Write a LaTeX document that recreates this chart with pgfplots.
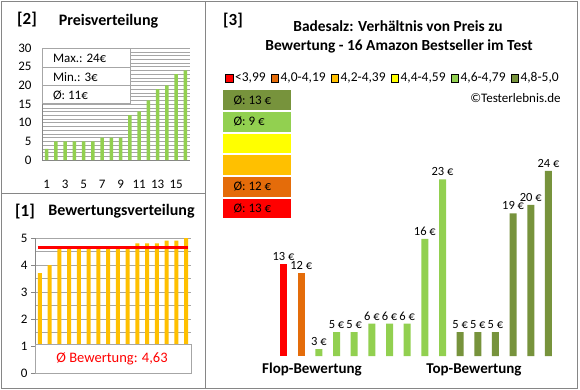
\documentclass[border=0pt]{standalone}
\usepackage{pgfplots}
\pgfplotsset{compat=1.18}
\usepackage{fontspec}
\setmainfont{Carlito}
\definecolor{cRed}{HTML}{FF0000}
\definecolor{cDOr}{HTML}{E46C0A}
\definecolor{cOr}{HTML}{FFC000}
\definecolor{cYel}{HTML}{FFFF00}
\definecolor{cLG}{HTML}{92D050}
\definecolor{cOl}{HTML}{77933C}
\definecolor{framec}{HTML}{868686}
\definecolor{gridc}{HTML}{A6A6A6}
\newcommand{\fs}[1]{\fontsize{#1}{#1}\selectfont}

\begin{document}
\begin{tikzpicture}
\path[use as bounding box] (0pt,0pt) rectangle (580pt,-390pt);
\fill[white] (0pt,0pt) rectangle (580pt,-390pt);
\draw[framec, line width=1pt] (1pt,-1.5pt) rectangle (577pt,-388pt);
\draw[framec, line width=1pt] (205pt,-1.5pt) -- (205pt,-388pt);
\draw[framec, line width=1pt] (1pt,-193pt) -- (205pt,-193pt);

% ---------- Panel [2] Preisverteilung ----------
\begin{axis}[at={(42pt,-160pt)}, anchor=south west, scale only axis,
  width=148pt, height=112pt,
  xmin=0.5, xmax=16.5, ymin=0, ymax=30,
  axis x line*=bottom, axis y line*=left, axis line style={framec,-},
  ytick={0,5,...,30}, minor ytick={1,...,29}, ymajorgrids, yminorgrids,
  major grid style={gridc}, minor grid style={gridc},
  xtick={1,3,...,15}, major tick length=0pt, minor tick length=0pt,
  tick label style={font=\fs{13}}, /pgf/number format/assume math mode=true,
  x tick label style={yshift=-17pt}, y tick label style={xshift=-7pt},
  ybar, bar width=3.3pt, bar shift=0pt]
\addplot[fill=cLG, draw=none] coordinates {(1,3)(2,5)(3,5)(4,5)(5,5)(6,5)(7,6)(8,6)(9,6)(10,12)(11,13)(12,16)(13,19)(14,20)(15,23)(16,24)};
\end{axis}
\draw[gridc, fill=white] (42pt,-48pt) rectangle (130pt,-103pt);
\draw[gridc] (42pt,-67pt) -- (130pt,-67pt);
\draw[gridc] (42pt,-85pt) -- (130pt,-85pt);
\node[anchor=west, font=\fs{13}] at (49.5pt,-58pt) {Max.: 24€};
\node[anchor=west, font=\fs{13}] at (49.5pt,-77pt) {Min.: 3€};
\node[anchor=west, font=\fs{13}] at (49.5pt,-95pt) {Ø: 11€};
\node[font=\bfseries\fs{17}] at (27pt,-20pt) {[2]};
\node[font=\bfseries\fs{16}] at (108.5pt,-21pt) {Preisverteilung};

% ---------- Panel [1] Bewertungsverteilung ----------
\begin{axis}[at={(35pt,-373pt)}, anchor=south west, scale only axis,
  width=156pt, height=135pt,
  xmin=0.5, xmax=16.5, ymin=0, ymax=5,
  axis x line*=bottom, axis y line*=left, axis line style={framec,-},
  ytick={0,...,5}, minor ytick={0.5,1.5,...,4.5}, ymajorgrids, yminorgrids,
  major grid style={gridc}, minor grid style={gridc},
  xtick=\empty, tick align=outside, major tick length=4pt, minor tick length=0pt,
  tick style={framec},
  tick label style={font=\fs{13}}, /pgf/number format/assume math mode=true,
  ybar, bar width=4pt, bar shift=0pt]
\addplot[fill=cOr, draw=none] coordinates {(1,3.7)(2,4.0)(3,4.6)(4,4.6)(5,4.6)(6,4.6)(7,4.7)(8,4.7)(9,4.7)(10,4.7)(11,4.8)(12,4.8)(13,4.8)(14,4.9)(15,4.9)(16,5.0)};
\addplot[sharp plot, cRed, line width=3pt] coordinates {(0.8,4.63)(16.2,4.63)};
\end{axis}
\draw[gridc, fill=white] (35pt,-344pt) rectangle (191pt,-373pt);
\node[text=cRed, font=\fs{14.5}] at (112pt,-359pt) {Ø Bewertung: 4,63};
\node[font=\bfseries\fs{17}] at (25pt,-212pt) {[1]};
\node[font=\bfseries\fs{16}] at (121.5pt,-211pt) {Bewertungsverteilung};

% ---------- Panel [3] ----------
\begin{axis}[at={(274.7pt,-356pt)}, anchor=south west, scale only axis,
  width=282.6pt, height=210.6pt,
  xmin=0.5, xmax=16.5, ymin=2.2, ymax=27, axis lines=none,
  ybar, bar width=7pt, bar shift=0pt,
  /pgf/number format/assume math mode=true,
  nodes near coords={\pgfmathprintnumber{\pgfplotspointmeta}\ €},
  nodes near coords style={font=\fs{12.5}, yshift=0pt},
  legend image code/.code={\fill[#1] (0pt,-4pt) rectangle (7.5pt,4pt);},
  legend columns=6,
  legend style={at={(-0.176,1.32)}, anchor=west, draw=none, fill=none,
    inner sep=0pt, font=\fs{13.5},
    /tikz/every odd column/.append style={column sep=0pt},
    /tikz/every even column/.append style={column sep=3pt},
    nodes={inner xsep=2pt}},
  legend cell align=left]
\addplot[fill=cRed, draw=none, forget plot] coordinates {(1,13)};
\addplot[fill=cDOr, draw=none, forget plot] coordinates {(2,12)};
\addplot[fill=cLG, draw=none, forget plot] coordinates {(3,3)(4,5)(5,5)(6,6)(7,6)(8,6)(9,16)(10,23)};
\addplot[fill=cOl, draw=none, forget plot] coordinates {(11,5)(12,5)(13,5)(14,19)(15,20)(16,24)};
\addlegendimage{fill=cRed}
\addlegendimage{fill=cDOr}
\addlegendimage{fill=cOr}
\addlegendimage{fill=cYel}
\addlegendimage{fill=cLG}
\addlegendimage{fill=cOl}
\legend{<3{,}99, 4{,}0-4{,}19, 4{,}2-4{,}39, 4{,}4-4{,}59, 4{,}6-4{,}79, 4{,}8-5{,}0}
\end{axis}

\begin{axis}[at={(223pt,-219.4pt)}, anchor=south west, scale only axis,
  width=68pt, height=130.2pt,
  xmin=0, xmax=1, ymin=0.5, ymax=6.5, axis lines=none,
  xbar, bar width=19.5pt, bar shift=0pt]
\addplot[fill=cRed, draw=none] coordinates {(1,1)};
\addplot[fill=cDOr, draw=none] coordinates {(1,2)};
\addplot[fill=cOr, draw=none] coordinates {(1,3)};
\addplot[fill=cYel, draw=none] coordinates {(1,4)};
\addplot[fill=cLG, draw=none] coordinates {(1,5)};
\addplot[fill=cOl, draw=none] coordinates {(1,6)};
\node[anchor=west, font=\fs{13}, xshift=7pt] at (axis cs:0,1) {Ø: 13 €};
\node[anchor=west, font=\fs{13}, xshift=7pt] at (axis cs:0,2) {Ø: 12 €};
\node[anchor=west, font=\fs{13}, xshift=7pt] at (axis cs:0,5) {Ø: 9 €};
\node[anchor=west, font=\fs{13}, xshift=7pt] at (axis cs:0,6) {Ø: 13 €};
\end{axis}

\node[font=\bfseries\fs{17}] at (233pt,-21pt) {[3]};
\node[font=\bfseries\fs{15.4}] at (398pt,-26pt) {Badesalz: Verhältnis von Preis zu};
\node[font=\bfseries\fs{15.4}] at (399pt,-46pt) {Bewertung - 16 Amazon Bestseller im Test};
\node[font=\fs{13}] at (515.5pt,-98pt) {©Testerlebnis.de};
\node[font=\bfseries\fs{15}] at (312pt,-370pt) {Flop-Bewertung};
\node[font=\bfseries\fs{15}] at (474pt,-370pt) {Top-Bewertung};
\end{tikzpicture}
\end{document}
